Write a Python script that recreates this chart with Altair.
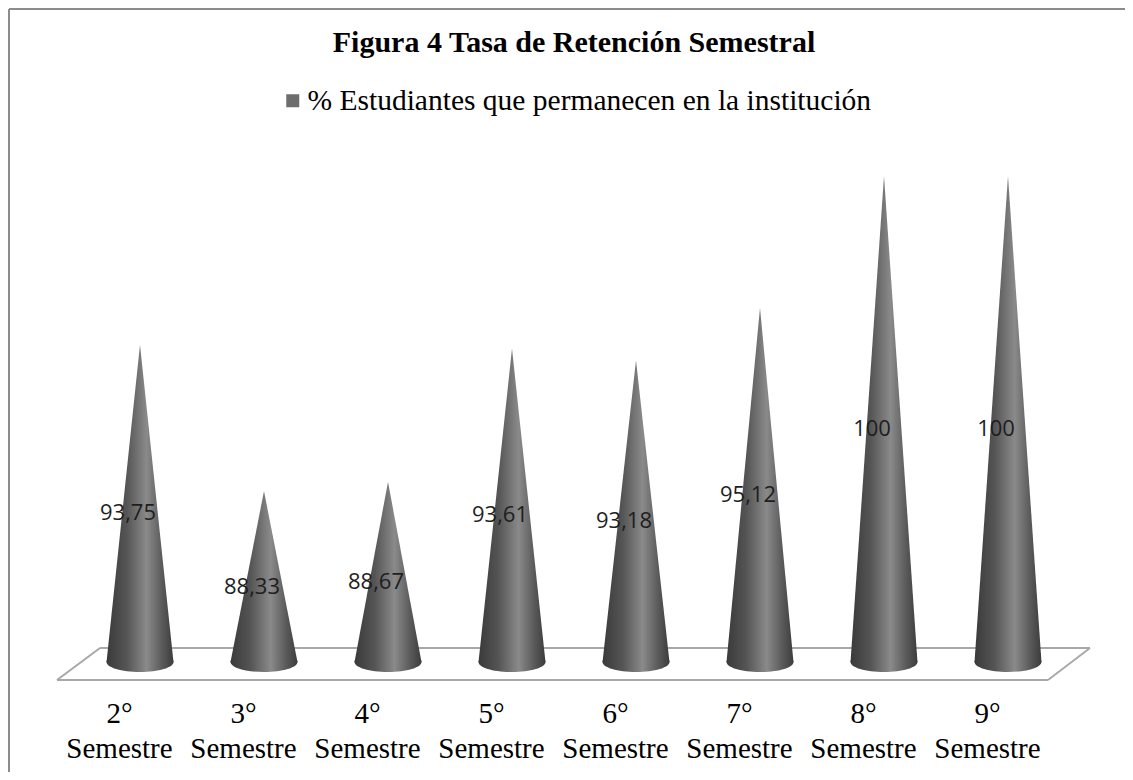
import altair as alt
import pandas as pd

# ---- data -------------------------------------------------------------
categories = ["2° Semestre", "3° Semestre", "4° Semestre", "5° Semestre",
              "6° Semestre", "7° Semestre", "8° Semestre", "9° Semestre"]
values = [93.75, 88.33, 88.67, 93.61, 93.18, 95.12, 100, 100]
series_name = "% Estudiantes que permanecen en la institución"
title_text = "Figura 4 Tasa de Retención Semestral"

BASE = 82          # value at which the cones stand
HALF = 0.27        # half cone width, in category units

# cone outline table: left foot, apex, right foot of each cone
rows = []
for i, (c, v) in enumerate(zip(categories, values)):
    for off, val in ((-HALF, BASE), (0.0, v), (HALF, BASE)):
        rows.append({"cat": c, "pos": i + off, "val": val})
cone_df = pd.DataFrame(rows)
base_df = pd.DataFrame({"cat": categories, "pos": list(range(len(categories))), "val": values})
one = pd.DataFrame({"d": [0]})

xscale = alt.Scale(domain=[-0.5, len(categories) - 0.5], nice=False, zero=False)
yscale = alt.Scale(domain=[BASE, 100], nice=False, zero=False)

grad = alt.Gradient(
    gradient="linear", x1=0, x2=1, y1=0, y2=0,
    stops=[
        alt.GradientStop(color="#3a3a3a", offset=0),
        alt.GradientStop(color="#555555", offset=0.3),
        alt.GradientStop(color="#8a8a8a", offset=0.6),
        alt.GradientStop(color="#5c5c5c", offset=0.82),
        alt.GradientStop(color="#3c3c3c", offset=1),
    ],
)

label_arr = "[" + ",".join("'%s'" % c for c in categories) + "]"
xaxis = alt.Axis(
    values=list(range(len(categories))),
    labelExpr=f"split({label_arr}[datum.value], ' ')",
    labelFont="Liberation Serif", labelFontSize=29, labelColor="#000000",
    labelLineHeight=35, labelPadding=37, labelOffset=-21,
    labelBaseline="top", labelOverlap=False, labelFlush=False,
    ticks=False, domain=False, grid=False, title=None,
)

cones = alt.Chart(cone_df).mark_area(fill=grad, opacity=1, strokeWidth=0).encode(
    x=alt.X("pos:Q", scale=xscale, axis=xaxis),
    y=alt.Y("val:Q", scale=yscale, axis=None),
    y2=alt.datum(BASE),
    detail="cat:N",
)

bases = alt.Chart(base_df).mark_point(
    shape="M -1 -0.04 L -1 0 A 1 0.3 0 0 0 1 0 L 1 -0.04 Z",
    size=4489, filled=True, fill=grad, opacity=1, strokeWidth=0,
).encode(
    x=alt.X("pos:Q", scale=xscale),
    y=alt.datum(BASE),
)

labels = alt.Chart(base_df).transform_calculate(
    mid=f"({BASE} + datum.val) / 2",
    txt="replace('' + datum.val, '.', ',')",
).mark_text(font="Open Sans", fontSize=22, color="#1e1e1e", dx=-12, dy=10).encode(
    x=alt.X("pos:Q", scale=xscale),
    y=alt.Y("mid:Q", scale=yscale),
    text="txt:N",
)

floor_color = "#a8a8a8"
def edge(x1, y1, x2, y2, color=floor_color, w=2):
    return alt.Chart(one).mark_rule(color=color, strokeWidth=w).encode(
        x=alt.value(x1), y=alt.value(y1), x2=alt.value(x2), y2=alt.value(y2))

floor = [
    edge(-21, 504, 970, 504),
    edge(22, 472, 1012, 472),
    edge(-21, 504, 22, 472),
    edge(970, 504, 1012, 472),
]
border = [
    edge(-69, -167, 1047, -167, color="#8c8c8c", w=2),
    edge(-69, -167, -69, 596, color="#8c8c8c", w=2),
]

legend_layer = alt.Chart(pd.DataFrame({"s": [series_name]})).mark_square(opacity=0).encode(
    color=alt.Color("s:N", scale=alt.Scale(range=["#6d6d6d"]), legend=alt.Legend(
        title=None, orient="none", legendX=200, legendY=-90,
        symbolType="square", symbolSize=169, symbolOpacity=1, symbolStrokeWidth=0,
        labelFont="Liberation Serif", labelFontSize=29.5, labelColor="#000000",
        labelOffset=0, labelLimit=1000, padding=0,
    ))
)

chart = alt.layer(
    *border, *floor, cones, bases, labels, legend_layer
).properties(
    width=992, height=486,
    title=alt.TitleParams(text=title_text, font="Liberation Serif", fontSize=30,
                          fontWeight="bold", color="#000000", anchor="middle",
                          baseline="alphabetic", offset=-74),
    padding={"left": 70, "top": 168, "right": 55, "bottom": 110},
    autosize=alt.AutoSizeParams(type="none"),
    background="white",
).configure_view(strokeWidth=0, stroke="transparent")

chart.save("out.html", embed_options={"renderer": "svg", "actions": False})
